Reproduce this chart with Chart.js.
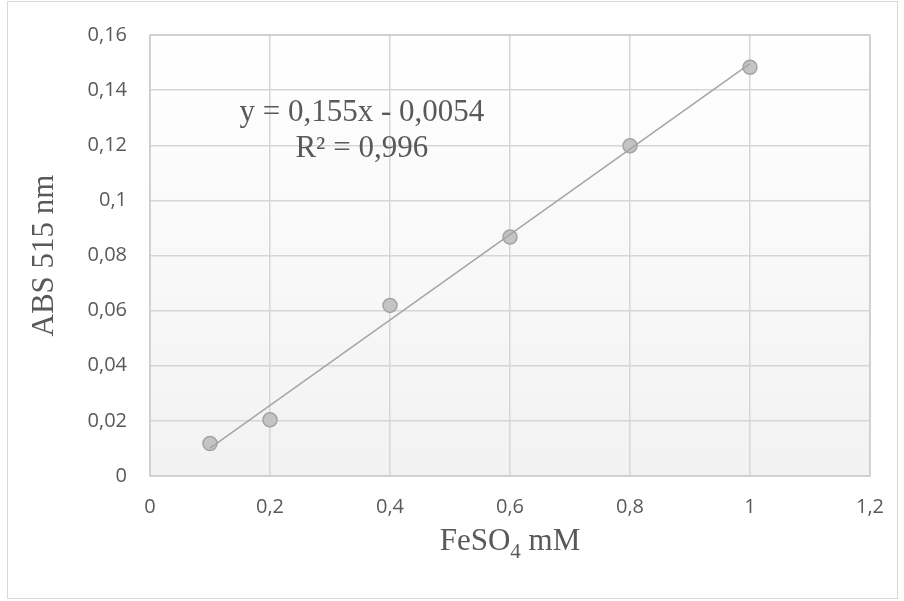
<!DOCTYPE html>
<html>
<head>
<meta charset="utf-8">
<script src="https://cdn.jsdelivr.net/npm/chart.js@4/dist/chart.umd.min.js"></script>
<style>
  html, body { margin: 0; padding: 0; background: #fff; }
  #holder { width: 904px; height: 601px; position: relative; }
</style>
</head>
<body>
<div id="holder"><canvas id="chart"></canvas></div>
<script>
// --- data ---
const concFeSO4 = [0.1, 0.2, 0.4, 0.6, 0.8, 1.0];
const absorbance = [0.0118, 0.0204, 0.0619, 0.0867, 0.1198, 0.1483];
const xTicks = [0, 0.2, 0.4, 0.6, 0.8, 1, 1.2];
const yTicks = [0, 0.02, 0.04, 0.06, 0.08, 0.1, 0.12, 0.14, 0.16];
const slope = 0.155;
const intercept = -0.0054;
const eqLines = ['y = 0,155x - 0,0054', 'R² = 0,996'];

const comma = v => String(v).replace('.', ',');
const serif = '"Liberation Serif", "Times New Roman", serif';
const textGrey = '#595959';

// excel-ish frame, plot background, plot border, titles, equation
const decor = {
  id: 'decor',
  beforeDraw(chart) {
    const ctx = chart.ctx, a = chart.chartArea;
    ctx.save();
    ctx.fillStyle = '#fff';
    ctx.fillRect(0, 0, chart.width, chart.height);
    ctx.strokeStyle = '#d9d9d9';
    ctx.lineWidth = 1;
    ctx.strokeRect(7.5, 1.5, 890, 597);
    const g = ctx.createLinearGradient(0, a.top, 0, a.bottom);
    g.addColorStop(0, '#ffffff');
    g.addColorStop(1, '#f2f2f2');
    ctx.fillStyle = g;
    ctx.fillRect(a.left, a.top, a.right - a.left, a.bottom - a.top);
    ctx.restore();
  },
  afterDatasetsDraw(chart) {
    const ctx = chart.ctx, a = chart.chartArea;
    const xs = chart.scales.x, ys = chart.scales.y;
    ctx.save();
    ctx.strokeStyle = '#cccccc';
    ctx.lineWidth = 1.5;
    ctx.strokeRect(a.left, a.top, a.right - a.left, a.bottom - a.top);

    ctx.fillStyle = textGrey;
    ctx.font = '31px ' + serif;
    ctx.textAlign = 'center';
    ctx.textBaseline = 'alphabetic';
    // equation label
    const cx = xs.getPixelForValue(0.353);
    const by = ys.getPixelForValue(0.1288);
    ctx.fillText(eqLines[0], cx, by);
    ctx.fillText(eqLines[1], cx, by + 36);

    // y title
    ctx.save();
    ctx.translate(53, (a.top + a.bottom) / 2);
    ctx.rotate(-Math.PI / 2);
    ctx.fillText('ABS 515 nm', 0, 0);
    ctx.restore();

    // x title with subscript
    const parts = [['FeSO', 31, 0], ['4', 21, 8], [' mM', 31, 0]];
    let total = 0;
    parts.forEach(p => { ctx.font = p[1] + 'px ' + serif; total += ctx.measureText(p[0]).width; });
    let x = (a.left + a.right) / 2 - total / 2;
    ctx.textAlign = 'left';
    parts.forEach(p => {
      ctx.font = p[1] + 'px ' + serif;
      ctx.fillText(p[0], x, 550 + p[2]);
      x += ctx.measureText(p[0]).width;
    });
    ctx.restore();
  }
};

const points = concFeSO4.map((c, i) => ({ x: c, y: absorbance[i] }));
const xMin = concFeSO4[0], xMax = concFeSO4[concFeSO4.length - 1];
const trend = [
  { x: xMin, y: slope * xMin + intercept },
  { x: xMax, y: slope * xMax + intercept }
];

new Chart(document.getElementById('chart'), {
  type: 'scatter',
  data: {
    datasets: [
      {
        label: 'trend',
        type: 'line',
        data: trend,
        borderColor: '#a5a5a5',
        borderWidth: 1.5,
        pointRadius: 0,
        fill: false,
        order: 0
      },
      {
        label: 'ABS',
        data: points,
        backgroundColor: '#c4c4c4',
        borderColor: '#a3a3a3',
        borderWidth: 1.5,
        pointRadius: 7,
        order: 1
      }
    ]
  },
  options: {
    responsive: true,
    maintainAspectRatio: false,
    animation: false,
    layout: { padding: { left: 0, top: 30, right: 34, bottom: 0 } },
    plugins: { legend: { display: false }, tooltip: { enabled: false } },
    scales: {
      x: {
        type: 'linear',
        min: 0, max: 1.2,
        afterFit: s => { s.height = 125; },
        afterBuildTicks: s => { s.ticks = xTicks.map(v => ({ value: v })); },
        grid: { color: '#d6d6d6', lineWidth: 1.5, drawTicks: false },
        border: { display: false },
        ticks: {
          padding: 19,
          color: textGrey,
          font: { family: '"Open Sans", sans-serif', size: 20 },
          callback: v => comma(v)
        }
      },
      y: {
        type: 'linear',
        min: 0, max: 0.16,
        afterFit: s => { s.width = 150; },
        afterBuildTicks: s => { s.ticks = yTicks.map(v => ({ value: v })); },
        grid: { color: '#d6d6d6', lineWidth: 1.5, drawTicks: false },
        border: { display: false },
        ticks: {
          padding: 23,
          color: textGrey,
          font: { family: '"Open Sans", sans-serif', size: 20 },
          callback: v => comma(Math.round(v * 100) / 100)
        }
      }
    }
  },
  plugins: [decor]
});
</script>
</body>
</html>
